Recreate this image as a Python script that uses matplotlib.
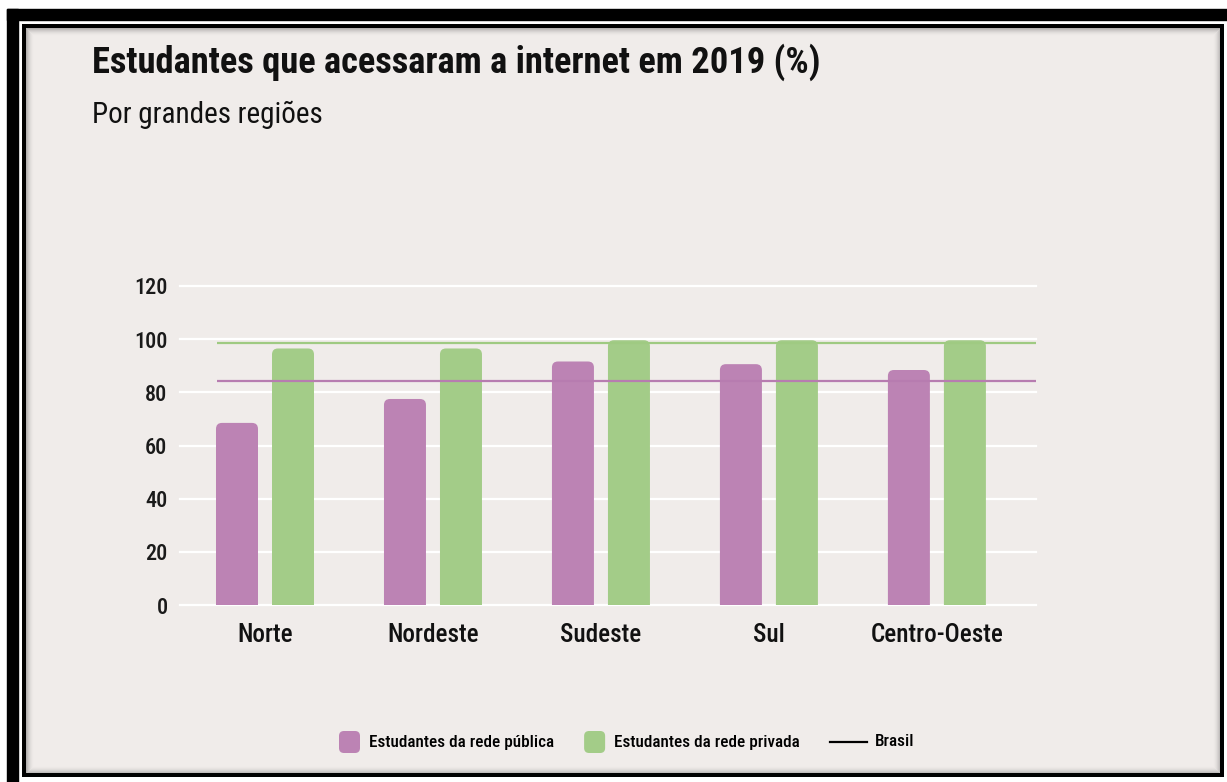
import numpy as np
import matplotlib.pyplot as plt
from matplotlib import font_manager
from matplotlib.patches import Rectangle, FancyBboxPatch

#Data
regions = ["Norte", "Nordeste", "Sudeste", "Sul", "Centro-Oeste"]
publica = [68.5, 77.5, 91.6, 90.6, 88.4]
privada = [96.5, 96.5, 99.6, 99.6, 99.6]
brasil_publica = 84.1
brasil_privada = 98.6
yticks = [0, 20, 40, 60, 80, 100, 120]
legend_labels = ["Estudantes da rede pública", "Estudantes da rede privada", "Brasil"]

#Colours
panel = "#f0ecea"
purple = "#bc83b4"
green = "#a3cc88"
purple_line = "#b77cb0"
green_line = "#9fca82"

#Pick a narrow font if one is installed
names = {f.name for f in font_manager.fontManager.ttflist}
stretch = "normal"
family = "DejaVu Sans"
for cand in ["Roboto Condensed", "Liberation Sans Narrow", "Noto Sans Condensed",
             "Open Sans Condensed", "DejaVu Sans Condensed"]:
    if cand in names:
        family = cand
        break
else:
    if any(f.name == "DejaVu Sans" and f.stretch == "condensed"
           for f in font_manager.fontManager.ttflist):
        stretch = "condensed"
plt.rcParams['font.family'] = [family, 'DejaVu Sans']
plt.rcParams['font.stretch'] = stretch

W, H = 1227, 782
fig = plt.figure(figsize=(W / 100, H / 100), dpi=100)
fig.patch.set_facecolor("white")
renderer = fig.canvas.get_renderer()


def width_px(text, size, weight="normal"):
    t = fig.text(0, 0, text, fontsize=size, fontweight=weight)
    w = t.get_window_extent(renderer).width
    t.remove()
    return w


def fit_size(text, target, max_size, weight="normal"):
    return min(max_size, 10 * target / width_px(text, 10, weight))


#---------/Frame/------------------------------#
bg = fig.add_axes([0, 0, 1, 1], zorder=0)
bg.set_xlim(0, W)
bg.set_ylim(H, 0)
bg.axis("off")
bg.add_patch(Rectangle((7, 9), 11, H - 9, color="black"))
bg.add_patch(Rectangle((7, 9), W - 7, 11, color="black"))
bg.add_patch(Rectangle((24, 26), 1198, 749, facecolor=panel,
                       edgecolor="black", lw=4 * 0.72))
#inner shadow
for i in range(1, 10):
    bg.add_patch(Rectangle((24 + i, 26 + i), 1198 - 2 * i, 749 - 2 * i,
                           fill=False, edgecolor="black",
                           alpha=0.4 * (1 - i / 10) ** 2, lw=0.72))

#---------/Titles/------------------------------#
title = "Estudantes que acessaram a internet em 2019 (%)"
fig.text(92 / W, 1 - 73 / H, title,
         fontsize=fit_size(title, 731, 27, "bold"), fontweight="bold",
         color="#111111", va="baseline", ha="left")
sub = "Por grandes regiões"
fig.text(92 / W, 1 - 123 / H, sub, fontsize=fit_size(sub, 258, 21),
         color="#111111", va="baseline", ha="left")

#---------/Chart/------------------------------#
left, right, top, bottom = 180, 1036, 286, 605
ax = fig.add_axes([left / W, (H - bottom) / H, (right - left) / W,
                   (bottom - top) / H], zorder=1)
ax.patch.set_visible(False)
xmin, xmax = -0.506, 4.59
ax.set_xlim(xmin, xmax)
ax.set_ylim(0, 120)
for s in ax.spines.values():
    s.set_visible(False)

for v in yticks:
    ax.axhline(v, color="white", lw=1.6, zorder=0.5, clip_on=False)

#Rounded bars
px_x = (right - left) / (xmax - xmin)
px_y = (bottom - top) / 120
aspect = px_x / px_y
w = 0.25
off = 0.1667
rs = 6 / px_x
x = np.arange(len(regions))
for xi, hp, hv in zip(x, publica, privada):
    for xc, h, c in ((xi - off, hp, purple), (xi + off, hv, green)):
        ax.add_patch(FancyBboxPatch((xc - w / 2, -10), w, h + 10,
                                    boxstyle=f"round,pad=0,rounding_size={rs}",
                                    mutation_aspect=aspect, facecolor=c,
                                    edgecolor="none", zorder=2))

#Brasil reference lines
x0 = xmin + (217 - left) / px_x
ax.hlines(brasil_privada, x0, xmax, color=green_line, lw=1.6, zorder=3)
ax.hlines(brasil_publica, x0, xmax, color=purple_line, lw=1.6, zorder=3)

ax.set_yticks(yticks)
ax.set_xticks(x, regions)
ax.tick_params(axis="y", length=0, pad=9, labelsize=16, labelcolor="#1a1a1a")
ax.tick_params(axis="x", length=0, pad=13, labelcolor="#111111",
               labelsize=fit_size("Centro-Oeste", 132, 20, 500))
for lab in ax.get_xticklabels() + ax.get_yticklabels():
    lab.set_fontweight(500)

#---------/Legend/------------------------------#
ly = 742
lsize = fit_size(legend_labels[0], 184, 13, 500)
handles = [("box", purple), ("box", green), ("line", "black")]
cx = 339
for (kind, col), lab in zip(handles, legend_labels):
    if kind == "box":
        bg.add_patch(FancyBboxPatch((cx, ly - 11), 21, 22,
                                    boxstyle="round,pad=0,rounding_size=5",
                                    facecolor=col, edgecolor="none"))
        tx = cx + 30
    else:
        bg.plot([cx, cx + 37], [ly, ly], color=col, lw=1.6)
        tx = cx + 45
    t = bg.text(tx, ly, lab, fontsize=lsize, fontweight=500,
                va="center", ha="left")
    cx = tx + t.get_window_extent(renderer).width + 30

fig.savefig("out.png", dpi=100, facecolor=fig.get_facecolor())
